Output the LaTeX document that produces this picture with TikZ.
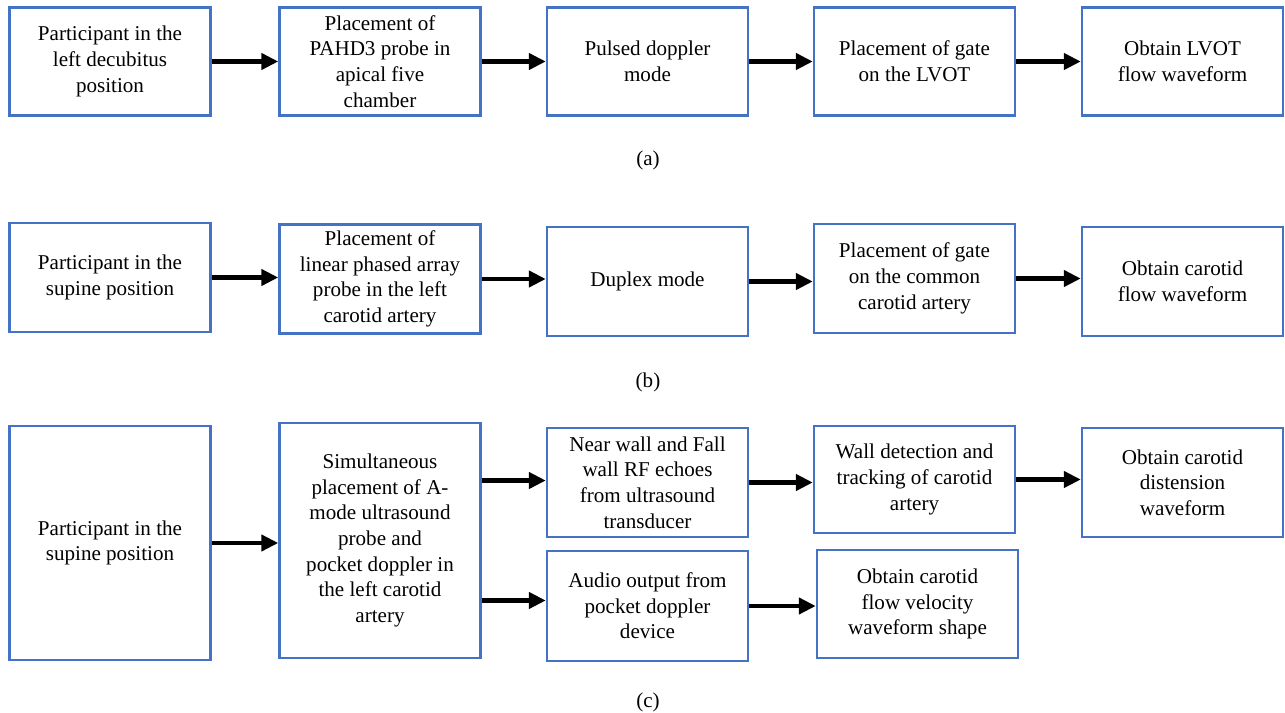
\documentclass[tikz,border=0pt]{standalone}
\usepackage{fontspec}
\setmainfont{Liberation Serif}
\usepackage{tikz}
\usetikzlibrary{calc, positioning, arrows.meta}
\definecolor{boxblue}{HTML}{4472C4}
\tikzstyle{blk}=[draw=boxblue, line width=1.4pt, inner sep=0pt, align=center, font=\fontsize{12}{14.6}\selectfont, minimum width=4.02cm, minimum height=2.16cm]
\tikzstyle{sublbl}=[inner sep=0pt, font=\fontsize{12}{14.6}\selectfont]
\tikzstyle{flow}=[line width=2.4pt, -{Triangle[length=0.34cm, width=0.32cm]}]

\begin{document}
\begin{tikzpicture}[x=0.02cm, y=-0.02cm]
\useasboundingbox (0,0) rectangle (1285,713);
% (a) LVOT
\node[blk] (a1) at (110,61.5) {Participant in the\\left decubitus\\position};
\node[blk] (a2) at (380,61.5) {Placement of\\PAHD3 probe in\\apical five\\chamber};
\node[blk] (a3) at (647.5,61.5) {Pulsed doppler\\mode};
\node[blk] (a4) at (914.5,61.5) {Placement of gate\\on the LVOT};
\node[blk] (a5) at (1182.5,61.5) {Obtain LVOT\\flow waveform};
\node[sublbl] (capa) at (648,160) {(a)};
%
% (b) carotid, duplex
\node[blk, minimum height=2.18cm] (b1) at (110,277.5) {Participant in the\\supine position};
\node[blk, minimum height=2.18cm] (b2) at (380,279) {Placement of\\linear phased array\\probe in the left\\carotid artery};
\node[blk, minimum height=2.18cm] (b3) at (647.5,281.5) {Duplex mode};
\node[blk, minimum height=2.18cm] (b4) at (914.5,278.5) {Placement of gate\\on the common\\carotid artery};
\node[blk, minimum height=2.18cm] (b5) at (1182.5,281.5) {Obtain carotid\\flow waveform};
\node[sublbl] (capb) at (648,382) {(b)};
%
% (c) A-mode and pocket doppler
\node[blk, minimum height=4.68cm] (c1) at (110,543) {Participant in the\\supine position};
\node[blk, minimum height=4.7cm] (c2) at (380,540.5) {Simultaneous\\placement of A-\\mode ultrasound\\probe and\\pocket doppler in\\the left carotid\\artery};
\node[blk, minimum height=2.18cm] (c3) at (647.5,482.5) {Near wall and Fall\\wall RF echoes\\from ultrasound\\transducer};
\node[blk, minimum height=2.14cm] (c4) at (914.5,479.5) {Wall detection and\\tracking of carotid\\artery};
\node[blk, minimum height=2.18cm] (c5) at (1182.5,482.5) {Obtain carotid\\distension\\waveform};
\node[blk, minimum height=2.2cm] (c6) at (647.5,606) {Audio output from\\pocket doppler\\device};
\node[blk, minimum height=2.16cm] (c7) at (917.5,604) {Obtain carotid\\flow velocity\\waveform shape};
\node[sublbl] (capc) at (648,702) {(c)};
\coordinate (c2up) at ([yshift=1.2cm]c2.east);
\coordinate (c2dn) at ([yshift=-1.2cm]c2.east);
%
\foreach \i in {1,2,3,4}
{
\pgfmathtruncatemacro{\ii}{\i+1}
\draw[flow] (a\i.east) -- (a\i.east -| a\ii.west);
\draw[flow] (b\i.east) -- (b\i.east -| b\ii.west);
}
\draw[flow] (c1.east) -- (c1.east -| c2.west);
\draw[flow] (c2up) -- (c2up -| c3.west);
\draw[flow] (c2dn) -- (c2dn -| c6.west);
\draw[flow] (c3.east) -- (c3.east -| c4.west);
\draw[flow] (c4.east) -- (c4.east -| c5.west);
\draw[flow] (c6.east) -- (c6.east -| c7.west);
%
\end{tikzpicture}
\end{document}
